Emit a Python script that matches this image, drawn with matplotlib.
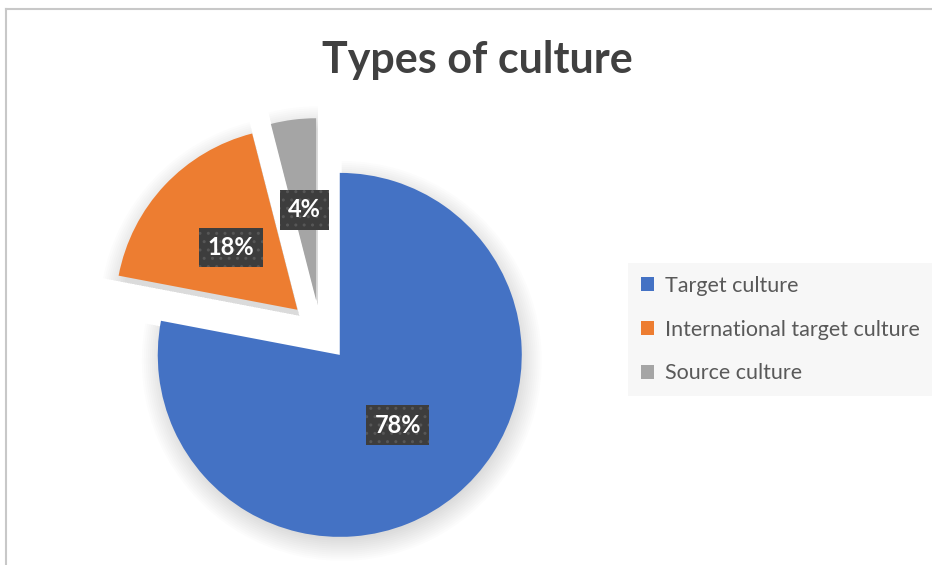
import matplotlib.pyplot as plt
from matplotlib.patches import Wedge
from matplotlib.lines import Line2D
import numpy as np

categories = ["Target culture", "International target culture", "Source culture"]
shares = [78, 18, 4]
colors = ["#4472C4", "#ED7D31", "#A5A5A5"]

W, H = 932, 565
fig = plt.figure(figsize=(W / 100, H / 100), dpi=100)
fig.patch.set_facecolor("white")
ax = fig.add_axes([0, 0, 1, 1])

cx, cy, r, boom = 320, 234, 182, 31

wedges, texts, pcts = ax.pie(
    shares, colors=colors, startangle=90, counterclock=False,
    center=(cx, cy), radius=r, explode=[boom] * 3,
    autopct="%1.0f%%", pctdistance=0.5,
    wedgeprops=dict(linewidth=0, zorder=2),
    textprops=dict(color="white", fontsize=17, fontweight="bold", family=["Lato", "DejaVu Sans"],
                   bbox=dict(boxstyle="square,pad=0.35", facecolor="#3d3d3d",
                             edgecolor="#575757", linewidth=0, hatch="..")),
)
for t in pcts:
    t.set_zorder(5)

# soft shadow under each slice
for w in wedges:
    (x0, y0), t1, t2 = w.center, w.theta1, w.theta2
    for k in range(12):
        ax.add_patch(Wedge((x0 + 2, y0 - 6), r + 2 * k - 4, t1, t2, color="black",
                           alpha=0.011, lw=0, zorder=1))

ax.set_xlim(0, W)
ax.set_ylim(0, H)
ax.set_aspect("equal")
ax.axis("off")

# outer frame (top and left edge visible)
ax.add_line(Line2D([6, W], [H - 9, H - 9], color="#c8c8c8", lw=1.5))
ax.add_line(Line2D([6, 6], [0, H - 9], color="#c8c8c8", lw=1.5))

ax.text(477, H - 60, "Types of culture", ha="center", va="center", fontsize=31,
        fontweight="bold", color="#404040", family=["Lato", "DejaVu Sans"])

leg = ax.legend(wedges, categories, loc="upper left", bbox_to_anchor=(628 / W, 1 - 263 / H),
                bbox_transform=fig.transFigure, frameon=True, fancybox=False,
                facecolor="#f7f7f7", edgecolor="none", framealpha=1, borderaxespad=0,
                handlelength=0.6, handleheight=0.6, handletextpad=0.5,
                labelspacing=1.1, borderpad=0.6,
                prop=dict(family=["Lato", "DejaVu Sans"], size=15.5))
for txt in leg.get_texts():
    txt.set_color("#595959")

fig.savefig("out.png", dpi=100, facecolor="white")
